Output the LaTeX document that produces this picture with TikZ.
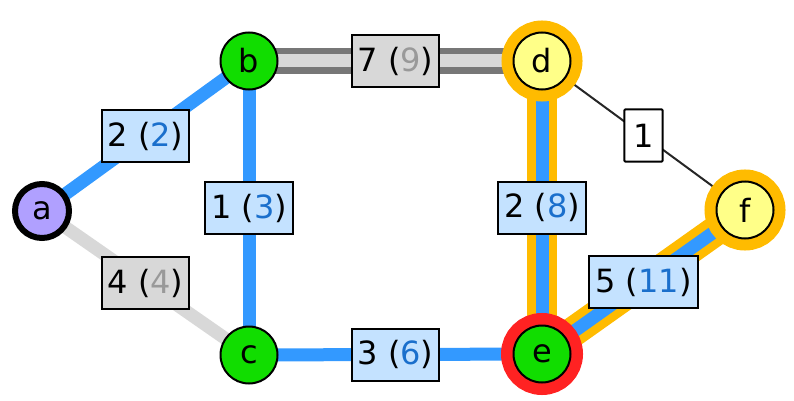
\documentclass[tikz,border=0pt]{standalone}
\usepackage{fontspec}
\setmainfont{DejaVu Sans}
\usetikzlibrary{backgrounds}
\definecolor{vgreen}{HTML}{11DD00}
\definecolor{vlilac}{HTML}{B0A0FF}
\definecolor{vyellow}{HTML}{FFFF88}
\definecolor{ringorange}{HTML}{FFBB00}
\definecolor{ringred}{HTML}{FF2222}
\definecolor{edgeblue}{HTML}{3399FF}
\definecolor{edgegray}{HTML}{D8D8D8}
\definecolor{rimgray}{HTML}{777777}
\definecolor{lblblue}{HTML}{C4E2FF}
\definecolor{numblue}{HTML}{1A6FCC}
\definecolor{numgray}{HTML}{999999}
\newcommand{\costb}[1]{\textcolor{numblue}{#1}}
\newcommand{\costg}[1]{\textcolor{numgray}{#1}}

\begin{document}
\begin{tikzpicture}[
  x=1pt, y=-1pt,
  font=\fontsize{32}{38}\selectfont,
  vertex/.style={circle, draw=black, line width=2pt, inner sep=0pt,
                 minimum size=57pt, fill=vgreen},
  source/.style={vertex, line width=6pt, minimum size=54pt, fill=vlilac},
  goal/.style={vertex, fill=vyellow, preaction={draw=ringorange, line width=24pt}},
  curr/.style={vertex, preaction={draw=ringred, line width=25pt}},
  wlabel/.style={draw=black, line width=2pt, inner xsep=6pt, inner ysep=0pt,
                 minimum height=52pt, fill=lblblue, text=black},
  glabel/.style={wlabel, fill=edgegray},
  plabel/.style={wlabel, fill=white, rounded corners=1pt, inner xsep=9pt},
  tree/.style={line width=13pt, draw=edgeblue},
  unused/.style={line width=13pt, draw=edgegray},
  plain/.style={line width=2pt, draw=black!85},
  goalrim/.style={line width=30pt, draw=ringorange},
  greyrim/.style={line width=26pt, draw=rimgray},
]
\useasboundingbox (0,0) rectangle (794,401);

% ---- vertices ----
\node[source] (a) at (42,211)  {a};
\node[vertex] (b) at (249,61)  {b};
\node[vertex] (c) at (249,355) {c};
\node[goal]   (d) at (542,61)  {d};
\node[curr]   (e) at (542,354) {e};
\node[goal]   (f) at (745,210) {f};

% ---- edges ----
\begin{scope}[on background layer]
  \draw[greyrim] (b.center) -- (d.center);
  \draw[goalrim] (d.center) -- (e.center);
  \draw[goalrim] (e.center) -- (f.center);

  \draw[tree]   (a.center) -- node[wlabel] {2 (\costb{2})} (b.center);
  \draw[unused] (a.center) -- node[glabel] {4 (\costg{4})} (c.center);
  \draw[tree]   (b.center) -- node[wlabel] {1 (\costb{3})} (c.center);
  \draw[unused] (b.center) -- node[glabel] {7 (\costg{9})} (d.center);
  \draw[tree]   (c.center) -- node[wlabel] {3 (\costb{6})} (e.center);
  \draw[tree]   (d.center) -- node[wlabel] {2 (\costb{8})} (e.center);
  \draw[plain]  (d.center) -- node[plabel] {1} (f.center);
  \draw[tree]   (e.center) -- node[wlabel] {5 (\costb{11})} (f.center);
\end{scope}
\end{tikzpicture}
\end{document}
